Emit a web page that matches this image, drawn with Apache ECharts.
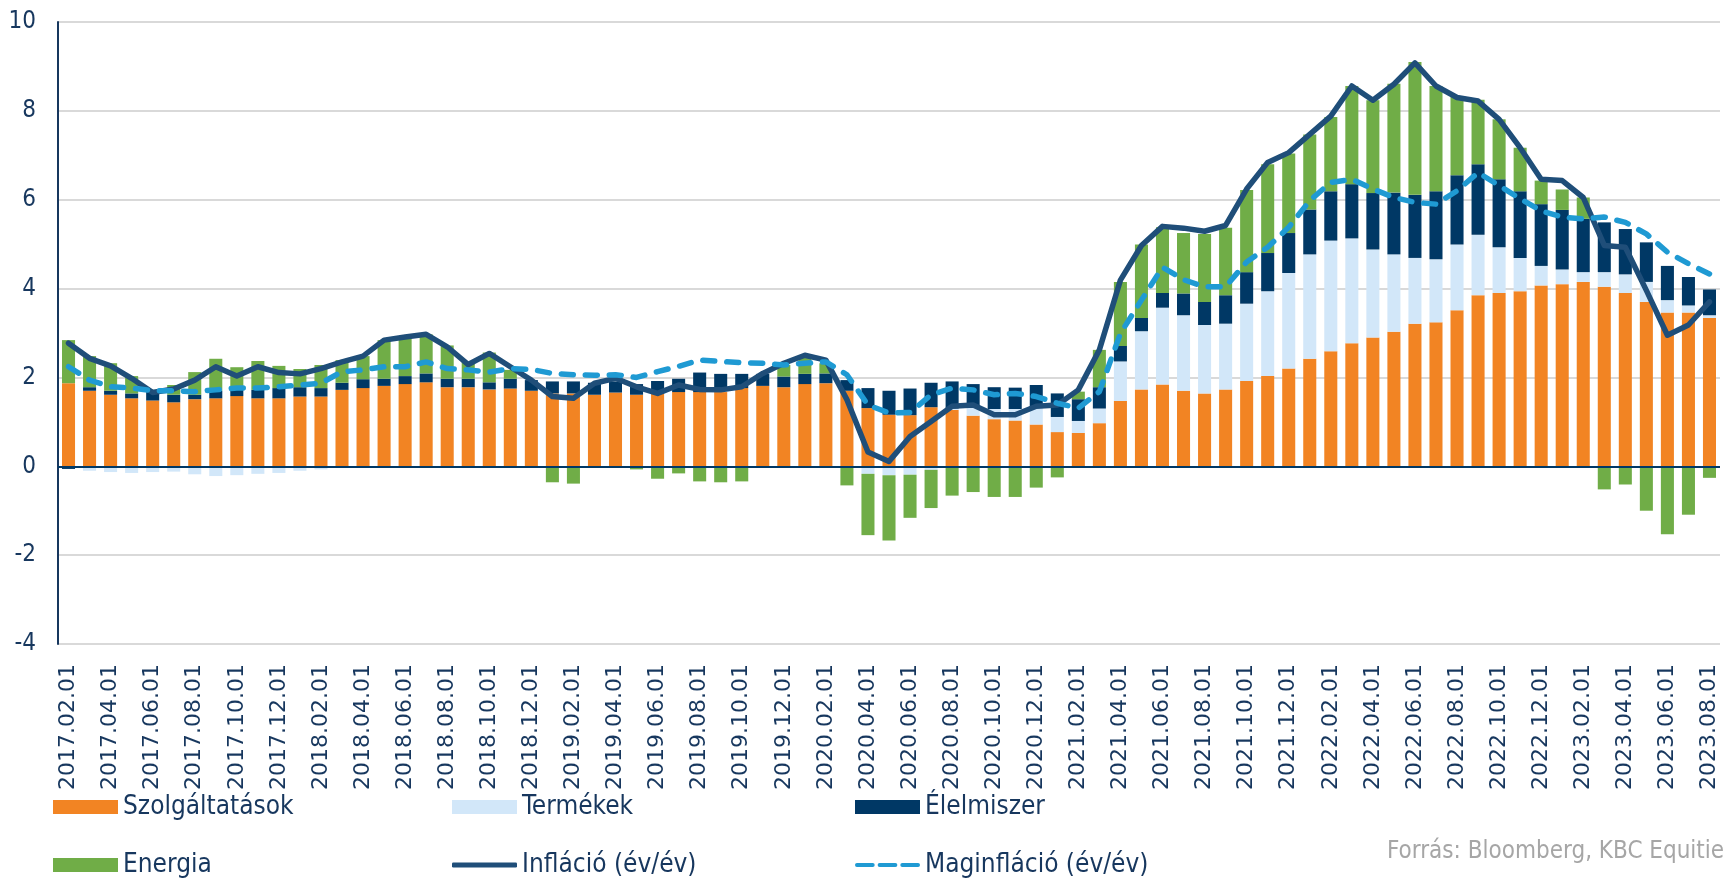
<!DOCTYPE html>
<html>
<head>
<meta charset="utf-8">
<script src="https://cdn.jsdelivr.net/npm/echarts@6/dist/echarts.min.js"></script>
<style>
html,body{margin:0;padding:0;background:#fff;}
#chart{width:1723px;height:880px;}
</style>
</head>
<body>
<div id="chart"></div>
<script>
const categories = [
'2017.02.01','2017.03.01','2017.04.01','2017.05.01','2017.06.01','2017.07.01','2017.08.01','2017.09.01','2017.10.01','2017.11.01','2017.12.01',
'2018.01.01','2018.02.01','2018.03.01','2018.04.01','2018.05.01','2018.06.01','2018.07.01','2018.08.01','2018.09.01','2018.10.01','2018.11.01','2018.12.01',
'2019.01.01','2019.02.01','2019.03.01','2019.04.01','2019.05.01','2019.06.01','2019.07.01','2019.08.01','2019.09.01','2019.10.01','2019.11.01','2019.12.01',
'2020.01.01','2020.02.01','2020.03.01','2020.04.01','2020.05.01','2020.06.01','2020.07.01','2020.08.01','2020.09.01','2020.10.01','2020.11.01','2020.12.01',
'2021.01.01','2021.02.01','2021.03.01','2021.04.01','2021.05.01','2021.06.01','2021.07.01','2021.08.01','2021.09.01','2021.10.01','2021.11.01','2021.12.01',
'2022.01.01','2022.02.01','2022.03.01','2022.04.01','2022.05.01','2022.06.01','2022.07.01','2022.08.01','2022.09.01','2022.10.01','2022.11.01','2022.12.01',
'2023.01.01','2023.02.01','2023.03.01','2023.04.01','2023.05.01','2023.06.01','2023.07.01','2023.08.01'
];

const szolgaltatasok = [1.87,1.70,1.61,1.53,1.48,1.44,1.51,1.53,1.58,1.53,1.53,1.57,1.57,
1.72,1.76,1.81,1.85,1.89,1.78,1.78,1.73,1.75,1.70,1.64,1.64,1.61,1.66,
1.61,1.64,1.67,1.67,1.67,1.76,1.81,1.78,1.85,1.87,1.70,
1.31,1.16,1.15,1.33,1.27,1.14,1.06,1.03,0.94,0.77,0.75,0.97,
1.47,1.73,1.84,1.70,1.64,1.73,1.92,2.03,2.20,2.42,
2.59,2.77,2.90,3.03,3.21,3.24,3.51,3.85,3.90,3.94,
4.07,4.10,4.15,4.04,3.90,3.70,3.46,3.46,3.34];

const termekek = [0,-0.10,-0.13,-0.15,-0.13,-0.12,-0.18,-0.22,-0.20,-0.17,-0.15,-0.10,-0.07,
-0.04,-0.03,-0.02,-0.02,-0.02,-0.02,-0.03,0,0,0,0,0,0,0,
0,0,0,0,0.03,0,0,0,-0.02,0,0,
-0.17,-0.20,-0.19,-0.08,0.03,0.18,0.23,0.26,0.40,0.34,0.27,0.33,
0.89,1.31,1.73,1.70,1.54,1.48,1.74,1.91,2.15,2.35,
2.49,2.36,1.98,1.74,1.48,1.42,1.48,1.36,1.03,0.75,
0.44,0.33,0.22,0.33,0.42,0.45,0.28,0.16,0.06];

const elelmiszer = [-0.06,0.08,0.09,0.11,0.22,0.17,0.10,0.17,0.20,0.19,0.23,0.21,0.19,
0.16,0.20,0.16,0.18,0.20,0.19,0.19,0.16,0.22,0.24,0.27,0.27,0.27,0.25,
0.24,0.28,0.30,0.44,0.38,0.32,0.27,0.24,0.23,0.22,0.24,
0.45,0.54,0.60,0.55,0.61,0.53,0.49,0.48,0.49,0.53,0.49,0.48,
0.35,0.30,0.33,0.49,0.52,0.64,0.71,0.86,0.90,1.01,
1.11,1.22,1.27,1.39,1.42,1.53,1.56,1.59,1.53,1.50,
1.39,1.34,1.20,1.12,1.02,0.89,0.77,0.64,0.58];

const energia = [0.97,0.70,0.62,0.39,0.02,0.22,0.51,0.72,0.45,0.65,0.50,0.41,0.52,
0.51,0.52,0.87,0.87,0.88,0.75,0.38,0.67,0.20,0,-0.36,-0.39,0,0,
-0.07,-0.28,-0.16,-0.34,-0.36,-0.34,0,0.26,0.37,0.23,-0.43,
-1.38,-1.47,-0.97,-0.86,-0.66,-0.58,-0.69,-0.69,-0.48,-0.25,0.17,0.84,
1.44,1.65,1.48,1.36,1.53,1.52,1.85,2.00,1.79,1.69,
1.67,2.21,2.09,2.45,2.99,2.37,1.76,1.45,1.35,0.98,
0.53,0.46,0.48,-0.52,-0.41,-1.00,-1.53,-1.09,-0.26];

const inflacio = [2.77,2.43,2.26,1.98,1.66,1.74,1.94,2.24,2.03,2.24,2.11,2.08,2.20,
2.35,2.48,2.84,2.91,2.97,2.69,2.29,2.54,2.24,1.94,1.57,1.53,1.87,1.98,
1.79,1.64,1.83,1.73,1.72,1.79,2.09,2.32,2.50,2.39,1.50,
0.32,0.11,0.67,1.01,1.35,1.38,1.16,1.16,1.35,1.38,1.72,2.62,
4.19,4.97,5.40,5.36,5.29,5.42,6.24,6.84,7.06,7.47,
7.88,8.56,8.24,8.60,9.08,8.56,8.30,8.22,7.81,7.17,
6.46,6.43,6.05,4.97,4.93,3.96,2.95,3.18,3.70];

const maginflacio = [2.24,1.94,1.79,1.76,1.70,1.70,1.68,1.72,1.76,1.76,1.79,1.83,1.87,
2.13,2.17,2.24,2.24,2.35,2.20,2.17,2.12,2.20,2.18,2.09,2.06,2.05,2.06,
2.00,2.13,2.25,2.39,2.36,2.33,2.32,2.28,2.32,2.35,2.06,
1.38,1.20,1.21,1.61,1.76,1.72,1.61,1.64,1.57,1.42,1.31,1.68,
2.99,3.74,4.48,4.20,4.04,4.04,4.60,4.93,5.38,5.98,
6.39,6.46,6.24,6.05,5.94,5.90,6.20,6.61,6.32,6.02,
5.75,5.61,5.57,5.61,5.49,5.23,4.82,4.56,4.33];

const yTicks = {min: -4, max: 10, interval: 2};
const sourceText = 'Forrás: Bloomberg, KBC Equities';

const NAVY = '#17375E';
const legendText = {color: NAVY, fontSize: 26, fontFamily: 'DejaVu Sans Condensed', lineHeight: 28};

const chart = echarts.init(document.getElementById('chart'), null, {renderer: 'canvas'});

function barSeries(name, data, color) {
  return {
    name: name, type: 'bar', stack: 'total', data: data,
    barCategoryGap: '38%',
    itemStyle: {color: color},
    emphasis: {disabled: true}
  };
}

const series = [
  barSeries('Szolgáltatások', szolgaltatasok, '#F28423'),
  barSeries('Termékek', termekek, '#D2E7F9'),
  barSeries('Élelmiszer', elelmiszer, '#003865'),
  Object.assign(barSeries('Energia', energia, '#70AD47'), {
    markLine: {
      silent: true, symbol: 'none', animation: false,
      label: {show: false},
      lineStyle: {color: '#003865', width: 2, type: 'solid'},
      data: [{yAxis: 0}]
    }
  }),
  {
    name: 'Infláció (év/év)', type: 'line', data: inflacio, z: 5,
    symbol: 'none', smooth: false,
    lineStyle: {color: '#1F4E79', width: 5.5, join: 'round', cap: 'round'},
    itemStyle: {color: '#1F4E79'},
    emphasis: {disabled: true}
  },
  {
    name: 'Maginfláció (év/év)', type: 'line', data: maginflacio, z: 6,
    symbol: 'none', smooth: false,
    lineStyle: {color: '#1F9AD3', width: 5.5, type: [12, 12], cap: 'round', join: 'round'},
    itemStyle: {color: '#1F9AD3'},
    emphasis: {disabled: true}
  }
];

const DASH_ICON = 'path://M2,0h16a2,2 0 0 1 0,4h-16a2,2 0 0 1 0,-4z M25,0h16a2,2 0 0 1 0,4h-16a2,2 0 0 1 0,-4z M48,0h16a2,2 0 0 1 0,4h-16a2,2 0 0 1 0,-4z';

function legendItem(left, centerY, name, icon, h) {
  return {
    orient: 'horizontal', left: left, top: centerY - 14, padding: 0,
    itemWidth: 65, itemHeight: h, itemGap: 0,
    textStyle: legendText,
    selectedMode: false,
    data: [{name: name, icon: icon}]
  };
}

chart.setOption({
  animation: false,
  backgroundColor: '#ffffff',
  grid: {left: 58, right: 3, top: 22, bottom: 236, containLabel: false},
  legend: [
    legendItem(53, 807, 'Szolgáltatások', 'rect', 14),
    legendItem(452, 807, 'Termékek', 'rect', 14),
    legendItem(855, 807, 'Élelmiszer', 'rect', 14),
    legendItem(53, 865, 'Energia', 'rect', 14),
    legendItem(452, 865, 'Infláció (év/év)', 'roundRect', 5),
    legendItem(855, 865, 'Maginfláció (év/év)', DASH_ICON, 5)
  ],
  xAxis: {
    type: 'category', data: categories, boundaryGap: true,
    axisLine: {show: false}, axisTick: {show: false},
    axisLabel: {interval: 1, rotate: 90, margin: 20, fontSize: 22, fontFamily: 'DejaVu Sans', color: NAVY}
  },
  yAxis: {
    type: 'value', min: yTicks.min, max: yTicks.max, interval: yTicks.interval,
    axisLine: {show: true, lineStyle: {color: NAVY, width: 2}},
    axisTick: {show: false},
    splitLine: {lineStyle: {color: '#D9D9D9', width: 2}},
    axisLabel: {fontSize: 24, fontFamily: 'DejaVu Sans Condensed', color: NAVY, margin: 22}
  },
  graphic: [{
    type: 'text', left: 1387, top: 840, silent: true,
    style: {text: sourceText, fill: '#A6A6A6', fontSize: 24, fontFamily: 'DejaVu Sans Condensed'}
  }],
  series: series
});
</script>
</body>
</html>
